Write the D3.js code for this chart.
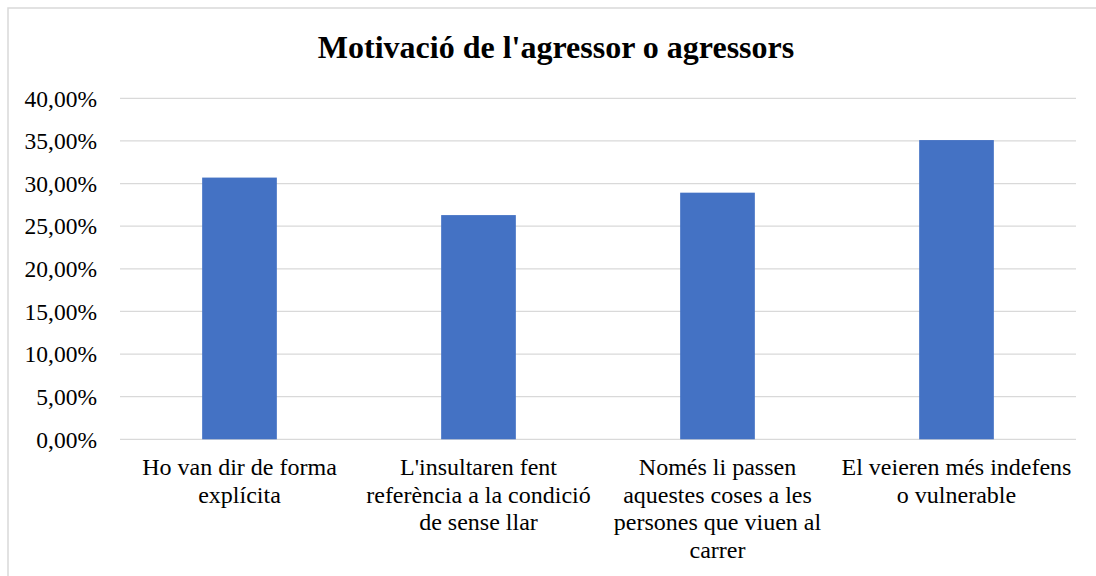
<!DOCTYPE html>
<html>
<head>
<meta charset="utf-8">
<script src="https://cdn.jsdelivr.net/npm/d3@7"></script>
<style>
  body { margin: 0; background: #fff; }
  text { font-family: "Liberation Serif", "Times New Roman", serif; fill: #000; }
</style>
</head>
<body>
<svg id="chart" width="1096" height="576"></svg>
<script>
// chart data
var categories = [
  "Ho van dir de forma explícita",
  "L'insultaren fent referència a la condició de sense llar",
  "Només li passen aquestes coses a les persones que viuen al carrer",
  "El veieren més indefens o vulnerable"
];
var values = [0.307, 0.263, 0.2893, 0.351];
var yTicks = [0, 0.05, 0.10, 0.15, 0.20, 0.25, 0.30, 0.35, 0.40];
var title = "Motivació de l'agressor o agressors";

var svg = d3.select("#chart");

// outer frame of the chart (runs off the right and bottom edge)
svg.append("rect")
  .attr("x", 8)
  .attr("y", 8)
  .attr("width", 1100)
  .attr("height", 600)
  .attr("fill", "none")
  .attr("stroke", "#d9d9d9")
  .attr("stroke-width", 1.5);

// plot area
var plotLeft = 120, plotRight = 1076, plotTop = 98.3, plotBottom = 439.3;

var x = d3.scaleBand()
  .domain(categories)
  .range([plotLeft, plotRight])
  .paddingInner(0.6875)
  .paddingOuter(0.34375);

var y = d3.scaleLinear()
  .domain([0, 0.40])
  .range([plotBottom, plotTop]);

// gridlines
svg.append("g")
  .selectAll("line")
  .data(yTicks)
  .enter()
  .append("line")
    .attr("x1", plotLeft)
    .attr("x2", plotRight)
    .attr("y1", function(d){ return y(d) })
    .attr("y2", function(d){ return y(d) })
    .attr("stroke", "#d9d9d9")
    .attr("stroke-width", 1.3);

// y axis labels
var fmt = function(d){ return (d * 100).toFixed(2).replace(".", ",") + "%" };
svg.append("g")
  .selectAll("text")
  .data(yTicks)
  .enter()
  .append("text")
    .attr("x", 97)
    .attr("y", function(d){ return y(d) })
    .attr("dy", "0.35em")
    .attr("text-anchor", "end")
    .style("font-size", "23.5px")
    .text(fmt);

// bars
svg.append("g")
  .selectAll("rect")
  .data(values)
  .enter()
  .append("rect")
    .attr("x", function(d, i){ return x(categories[i]) })
    .attr("width", x.bandwidth())
    .attr("y", function(d){ return y(d) })
    .attr("height", function(d){ return y(0) - y(d) })
    .attr("fill", "#4472c4");

// category labels, wrapped to the width of a band
var labels = svg.append("g")
  .selectAll("text")
  .data(categories)
  .enter()
  .append("text")
    .attr("text-anchor", "middle")
    .style("font-size", "24px")
    .attr("x", function(d){ return x(d) + x.bandwidth() / 2 })
    .attr("y", 475);

labels.each(function(d){
  var el = d3.select(this);
  var words = d.split(" ");
  var maxW = x.step() - 4;
  var lines = [], line = [];
  var probe = el.append("tspan");
  words.forEach(function(w){
    line.push(w);
    probe.text(line.join(" "));
    if (probe.node().getComputedTextLength() > maxW && line.length > 1) {
      line.pop();
      lines.push(line.join(" "));
      line = [w];
    }
  });
  lines.push(line.join(" "));
  probe.remove();
  lines.forEach(function(l, i){
    el.append("tspan")
      .attr("x", el.attr("x"))
      .attr("y", 475 + i * 27.5)
      .text(l);
  });
});

// title
svg.append("text")
  .attr("x", 556)
  .attr("y", 58)
  .attr("text-anchor", "middle")
  .style("font-size", "32px")
  .style("font-weight", "bold")
  .text(title);
</script>
</body>
</html>
